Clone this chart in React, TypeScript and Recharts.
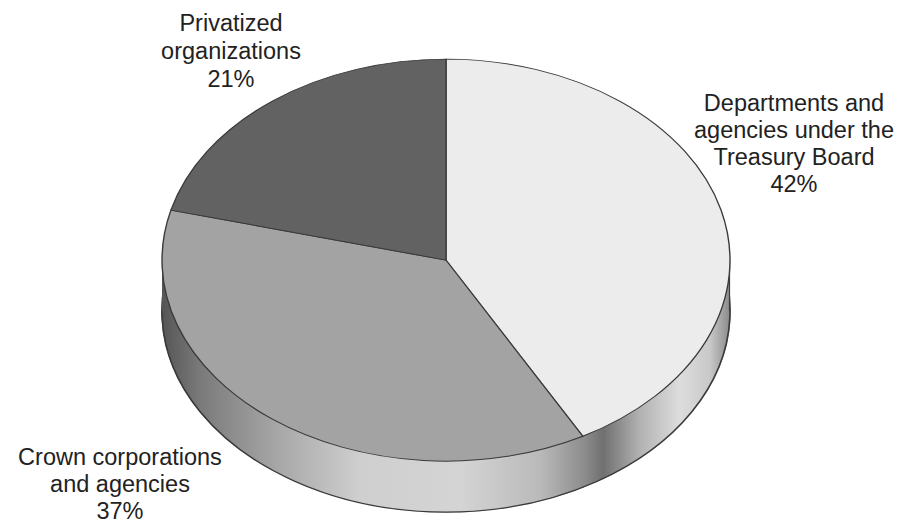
import React from "react";
import { PieChart, Pie, Cell } from "recharts";

// ---- data ----
const categories = [
  "Departments and agencies under the Treasury Board",
  "Crown corporations and agencies",
  "Privatized organizations",
];
const shares = [42, 37, 21];
const labelLines = [
  ["Departments and", "agencies under the", "Treasury Board"],
  ["Crown corporations", "and agencies"],
  ["Privatized", "organizations"],
];

// ---- styles / layout ----
const topColors = ["#ececec", "#a3a3a3", "#626262"];
const CX = 446;
const CY = 260;
const RX = 284;
const RY = 201;
const DEPTH = 51;
const K = RY / RX;
const PAD = 3;
const SIZE = RX * 2 + PAD * 2;
const labelPos = [
  { x: 794, y: 103, lh: 27 },
  { x: 120, y: 457, lh: 27 },
  { x: 231, y: 23, lh: 28 },
];

const data = categories.map((name, i) => ({ name, value: shares[i] }));
const outlineData = [{ name: "outline", value: 1 }];

const sideStops: [number, string][] = [
  [162, "#555555"],
  [200, "#7a7a7a"],
  [280, "#a8a8a8"],
  [360, "#cfcfcf"],
  [460, "#d4d4d4"],
  [540, "#bababa"],
  [585, "#8c8c8c"],
  [603, "#707070"],
  [640, "#b2b2b2"],
  [680, "#dddddd"],
  [710, "#c8c8c8"],
  [730, "#8a8a8a"],
];

const layerStyle = (top: number): React.CSSProperties => ({
  position: "absolute",
  left: CX - RX - PAD,
  top: top - PAD * K,
  width: SIZE,
  height: SIZE,
  transform: `scaleY(${K})`,
  transformOrigin: "0 0",
});

export default function App() {
  const x0 = CX - RX - PAD;
  return (
    <div
      style={{
        position: "absolute",
        left: 0,
        top: 0,
        width: 903,
        height: 524,
        background: "#ffffff",
        overflow: "hidden",
      }}
    >
      {/* bottom (side) ellipse */}
      <div style={layerStyle(CY - RY + DEPTH)}>
        <PieChart width={SIZE} height={SIZE} margin={{ top: 0, right: 0, bottom: 0, left: 0 }}>
          <Pie
            data={data}
            dataKey="value"
            nameKey="name"
            cx={RX + PAD}
            cy={RX + PAD}
            outerRadius={RX}
            startAngle={90}
            endAngle={-270}
            stroke="url(#sideGrad)"
            strokeWidth={1.5}
            isAnimationActive={false}
          >
            {data.map((d, i) => (
              <Cell key={i} fill="url(#sideGrad)" />
            ))}
          </Pie>
          <Pie
            data={outlineData}
            dataKey="value"
            cx={RX + PAD}
            cy={RX + PAD}
            outerRadius={RX}
            startAngle={90}
            endAngle={-270}
            fill="none"
            stroke="#3a3a3a"
            strokeWidth={1.6}
            isAnimationActive={false}
          />
        </PieChart>
      </div>
      {/* side band */}
      <svg
        width={SIZE}
        height={DEPTH}
        style={{ position: "absolute", left: x0, top: CY }}
      >
        <defs>
          <linearGradient id="sideGrad" gradientUnits="userSpaceOnUse" x1={0} y1={0} x2={SIZE} y2={0}>
            {sideStops.map(([x, c], i) => (
              <stop key={i} offset={(x - x0) / SIZE} stopColor={c} />
            ))}
          </linearGradient>
        </defs>
        <rect x={PAD} y={0} width={RX * 2} height={DEPTH} fill="url(#sideGrad)" />
        <line x1={PAD + 0.5} y1={0} x2={PAD + 0.5} y2={DEPTH} stroke="#555" strokeWidth={1} />
        <line x1={PAD + RX * 2 - 0.5} y1={0} x2={PAD + RX * 2 - 0.5} y2={DEPTH} stroke="#3a3a3a" strokeWidth={1.2} />
      </svg>
      {/* top face */}
      <div style={layerStyle(CY - RY)}>
        <PieChart width={SIZE} height={SIZE} margin={{ top: 0, right: 0, bottom: 0, left: 0 }}>
          <Pie
            data={data}
            dataKey="value"
            nameKey="name"
            cx={RX + PAD}
            cy={RX + PAD}
            outerRadius={RX}
            startAngle={90}
            endAngle={-270}
            stroke="#3a3a3a"
            strokeWidth={1.4}
            isAnimationActive={false}
          >
            {data.map((d, i) => (
              <Cell key={i} fill={topColors[i]} />
            ))}
          </Pie>
        </PieChart>
      </div>
      {/* labels */}
      <svg
        width={903}
        height={524}
        style={{ position: "absolute", left: 0, top: 0 }}
        fontFamily="'Liberation Sans', Arial, Helvetica, sans-serif"
        fontSize={23.5}
      >
        {labelLines.map((lines, i) => {
          const all = [...lines, `${shares[i]}%`];
          return (
            <text key={i} textAnchor="middle" fill="#222" dominantBaseline="central">
              {all.map((t, j) => (
                <tspan key={j} x={labelPos[i].x} y={labelPos[i].y + j * labelPos[i].lh}>
                  {t}
                </tspan>
              ))}
            </text>
          );
        })}
      </svg>
    </div>
  );
}
